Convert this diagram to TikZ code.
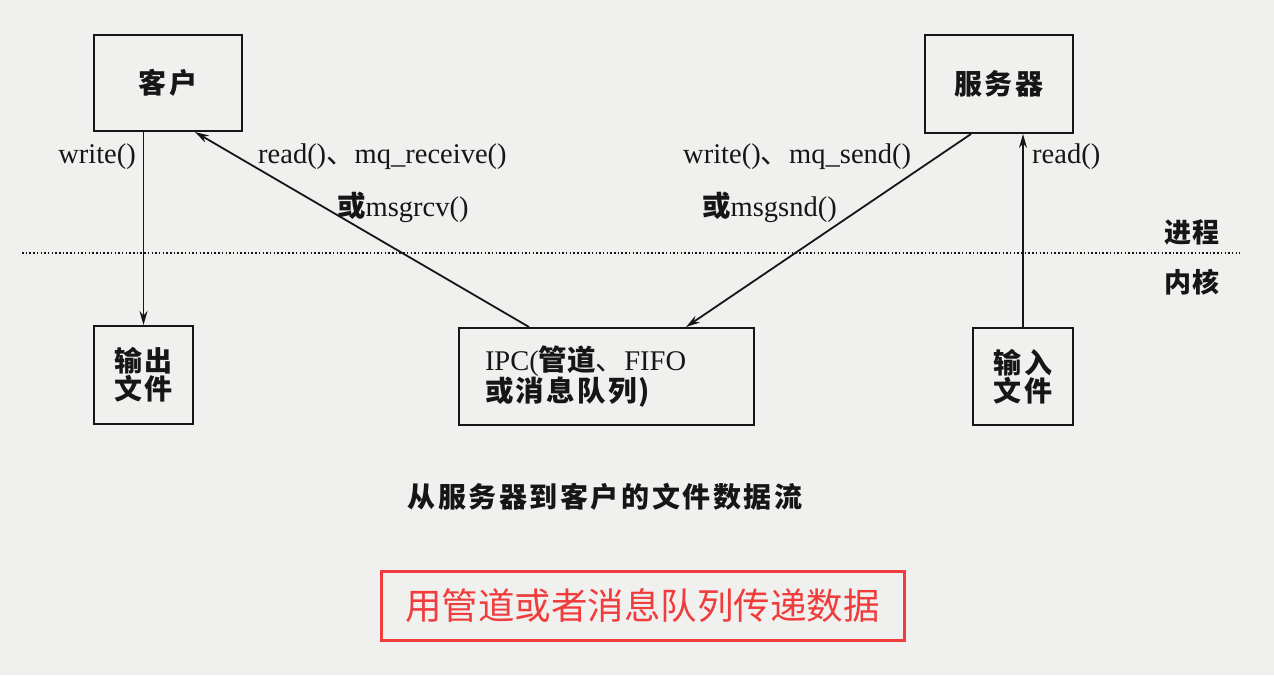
\documentclass[tikz,border=0pt]{standalone}
\usepackage{fontspec}
\setmainfont{Liberation Serif}
\newfontfamily\cjk{Noto Sans CJK SC}
\usetikzlibrary{calc,arrows.meta}
\definecolor{bg}{RGB}{240,240,238}
\definecolor{ink}{RGB}{22,22,22}
\definecolor{mark}{RGB}{240,60,60}
\newcommand{\dun}{{\cjk 、}}
\begin{document}
\begin{tikzpicture}[x=1pt,y=-1pt,
  box/.style={draw=ink, line width=2pt, inner sep=0pt, align=center,
    font=\cjk\bfseries\fontsize{28}{28}\selectfont\addfontfeature{LetterSpace=8}, text=ink},
  lbl/.style={inner sep=0pt, text=ink, font=\fontsize{28.5}{30}\selectfont},
  side/.style={inner sep=0pt, text=ink, font=\cjk\bfseries\fontsize{27}{28}\selectfont\addfontfeature{LetterSpace=4}},
  flow/.style={draw=ink, line width=1.8pt, -{Stealth[length=14pt,width=8pt]}}]
  % canvas
  \fill[bg] (0,0) rectangle (1274,675);
  \useasboundingbox (0,0) rectangle (1274,675);

  % process / kernel boundary
  \coordinate (bl) at (22,253);
  \coordinate (br) at (1240,253);
  \draw[ink, line width=1.5pt, dash pattern=on 1.5pt off 2.2pt] (bl) -- (br);
  \node[side] (proc) at (1192,232) {进程};
  \node[side] (kern) at (1192,282) {内核};

  % boxes
  \node[box, minimum width=148pt, minimum height=96pt] (client) at (168,83) {客户};
  \node[box, minimum width=148pt, minimum height=98pt] (server) at (999,84) {服务器};
  \node[box, minimum width=99pt, minimum height=98pt] (outf) at (143.5,375) {输出\\文件};
  \node[box, minimum width=100pt, minimum height=97pt] (inf) at (1023,376.5) {输入\\文件};
  \node[box, minimum height=97pt, text width=243pt, inner xsep=26pt, align=left,
        font=\fontsize{28.5}{28}\selectfont] (ipc) at (606.5,376.5)
        {IPC({\cjk\bfseries 管道}\dun FIFO\\{\cjk\bfseries\addfontfeature{LetterSpace=8}或消息队列)}};

  % data flow
  \draw[flow] (outf.north |- client.south) -- (outf.north);
  \draw[flow] ($(ipc.north west)+(71,0)$) -- ($(client.south west)+(102,0)$);
  \draw[flow] ($(server.south west)+(47,0)$) -- ($(ipc.north west)+(228,0)$);
  \draw[flow, line width=1.2pt] (inf.north) -- (inf.north |- server.south);

  % call labels
  \node[lbl, anchor=east] (w1) at (136,157) {write()};
  \node[lbl, anchor=west] (r1) at (258,157) {read()\dun mq\_receive()};
  \node[lbl, anchor=west] (r2) at (337,207) {{\cjk\bfseries 或}msgrcv()};
  \node[lbl, anchor=west] (w2) at (683,157) {write()\dun mq\_send()};
  \node[lbl, anchor=west] (w3) at (702,207) {{\cjk\bfseries 或}msgsnd()};
  \node[lbl, anchor=west] (r3) at (1032,157) {read()};

  % caption
  \node[inner sep=0pt, text=ink, font=\cjk\bfseries\fontsize{28}{30}\selectfont\addfontfeature{LetterSpace=9}]
    (cap) at (605,497) {从服务器到客户的文件数据流};

  % highlighted note
  \node[draw=mark, line width=3pt, text=mark, minimum width=523pt, minimum height=69pt,
        inner sep=0pt, font=\cjk\fontsize{36.5}{40}\selectfont] (note) at (642.5,605.5)
        {用管道或者消息队列传递数据};
\end{tikzpicture}
\end{document}
